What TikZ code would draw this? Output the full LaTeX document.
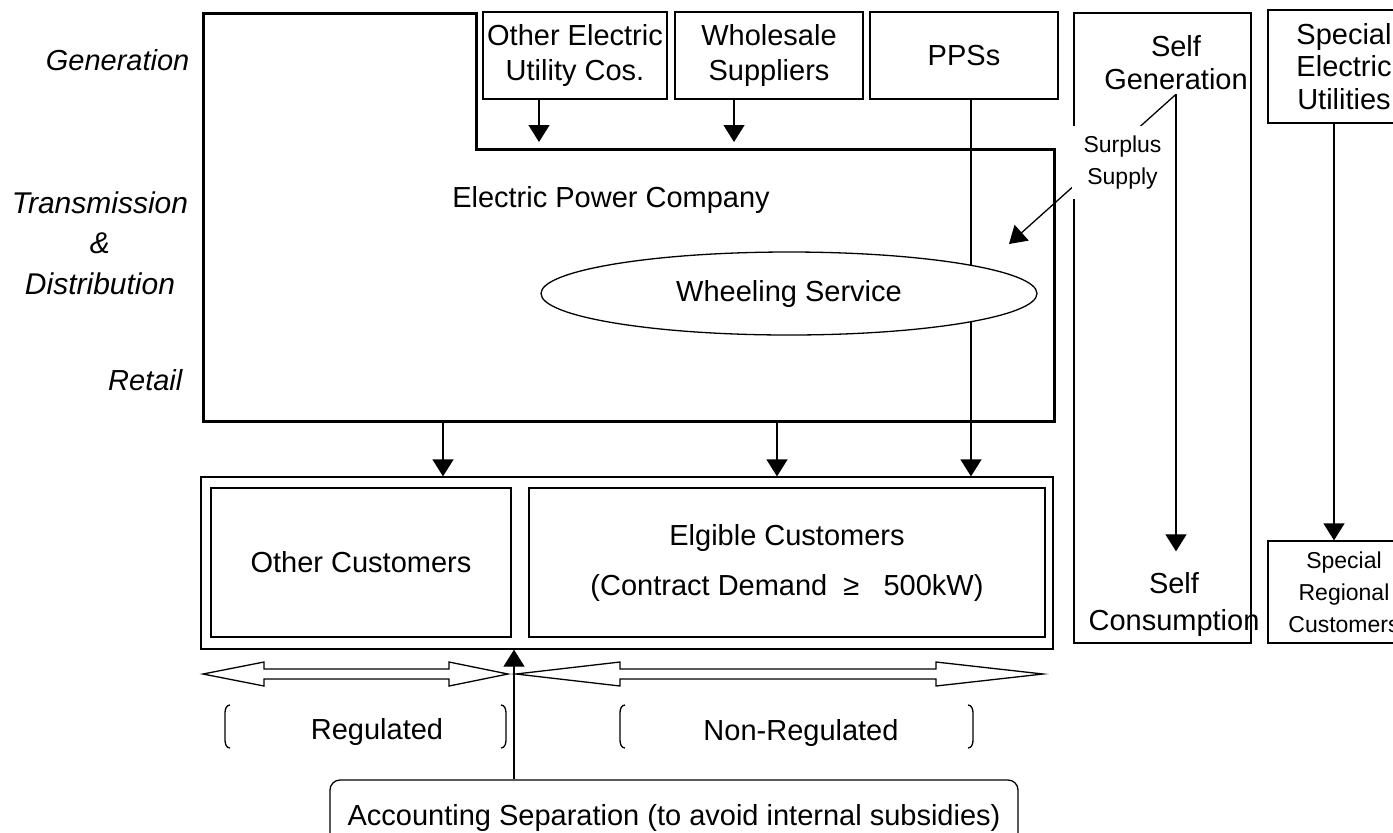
\documentclass[tikz,border=0pt]{standalone}
\usepackage{fontspec}
\setmainfont{Liberation Sans}
\usepackage{tikz}
\usetikzlibrary{arrows.meta,shapes.geometric}
\tikzset{arr/.style={-{Triangle[length=8.5pt,width=10.5pt]}}}
\tikzset{box/.style={draw,inner sep=0pt,align=center}}
\tikzset{small/.style={font=\fontsize{11.5pt}{16pt}\selectfont}}
\tikzset{side/.style={font=\itshape}}

\begin{document}
\fontsize{14.5pt}{17.5pt}\selectfont
\begin{tikzpicture}[x=0.5pt,y=-0.5pt,line width=0.65pt]
\clip (0,0) rectangle (1393,832);

\node[side,anchor=east,inner sep=0pt] (gen) at (190,60) {Generation};
\node[side,align=center,font=\itshape\fontsize{15pt}{20.25pt}\selectfont] (tnd) at (100,243) {Transmission\\\&\\Distribution};
\node[side,anchor=east,inner sep=0pt] (ret) at (183,380) {Retail};

\draw[line width=1.5pt] (203,13) -- (476,13) -- (476,149) -- (1054,149) -- (1054,421) -- (203,421) -- cycle;
\node (epc) at (611,200) {Electric Power Company};

\node[box,minimum width=92pt,minimum height=43.5pt] (oeu) at (575,55.5) {Other Electric\\Utility Cos.};
\node[box,minimum width=94pt,minimum height=43.5pt] (whs) at (769,55.5) {Wholesale\\Suppliers};
\node[box,minimum width=94pt,minimum height=43.5pt] (pps) at (964,55.5) {PPSs};

\node[box,minimum width=426pt,minimum height=86pt] (cust) at (627,563) {};
\node[box,minimum width=150pt,minimum height=74.5pt] (othcust) at (361,562.5) {Other Customers};
\node[box,minimum width=258pt,minimum height=74.5pt,font=\fontsize{14.5pt}{25pt}\selectfont] (elig) at (787,562.5) {Elgible Customers\\(Contract Demand~~≥~~~500kW)};

\draw[arr] ([xshift=3.5pt]pps.south) -- ([xshift=3.5pt]pps.south |- cust.north);
\node[ellipse,draw,fill=white,inner sep=0pt,minimum width=248pt,minimum height=41.5pt] (wheel) at (789,293.5) {Wheeling Service};

\coordinate (gentop) at (0,142);
\draw[arr] ([xshift=-18pt]oeu.south) -- ([xshift=-18pt]oeu.south |- gentop);
\draw[arr] ([xshift=-17.5pt]whs.south) -- ([xshift=-17.5pt]whs.south |- gentop);

\coordinate (ret1) at (443,421);
\coordinate (ret2) at (777,421);
\draw[arr] (ret1) -- (ret1 |- cust.north);
\draw[arr] (ret2) -- (ret2 |- cust.north);

\node[box,minimum width=88.5pt,minimum height=315pt] (selfbox) at (1162.5,328) {};
\node[inner sep=1.75pt,align=center,font=\fontsize{14.5pt}{16.5pt}\selectfont] (selfgen) at (1176,63) {Self\\Generation};
\node[inner xsep=0pt,inner ysep=10pt,align=center,font=\fontsize{14.5pt}{18.5pt}\selectfont] (selfcons) at (1174,604) {Self\\Consumption};
\draw[arr] (selfgen.south) -- (selfgen.south |- selfcons.north);
\coordinate (surtip) at (1009,244);
\draw[arr] (selfgen.south) -- (surtip);
\node[small,fill=white,align=center,inner sep=0pt,minimum width=50.5pt,minimum height=36.5pt] (surplus) at (1122.5,162.5) {Surplus\\Supply};

\node[box,minimum width=76pt,minimum height=56.5pt,font=\fontsize{14.5pt}{16.25pt}\selectfont] (speu) at (1344,66.5) {Special\\Electric\\Utilities};
\node[box,small,minimum width=76pt,minimum height=51pt] (spreg) at (1344,592) {Special\\Regional\\Customers};
\draw[arr] ([xshift=-5pt]speu.south) -- ([xshift=-5pt]speu.south |- spreg.north);

\draw (203,674) -- (264,662) -- (264,669) -- (449,669) -- (449,662) -- (508,674) -- (449,686) -- (449,679) -- (264,679) -- (264,686) -- cycle;
\draw (516,674) -- (620,662) -- (620,669) -- (936,669) -- (936,662) -- (1043,674) -- (936,686) -- (936,679) -- (620,679) -- (620,686) -- cycle;

\node (reg) at (377,732) {Regulated};
\node (nonreg) at (801,733) {Non-Regulated};
\draw (230,705) to[out=180,in=90] (225,713) -- (225,740) to[out=-90,in=180] (230,748);
\draw (501,705) to[out=0,in=90] (506,713) -- (506,740) to[out=-90,in=0] (501,748);
\draw (625,705) to[out=180,in=90] (620,713) -- (620,740) to[out=-90,in=180] (625,748);
\draw (968,705) to[out=0,in=90] (973,713) -- (973,740) to[out=-90,in=0] (968,748);

\node[draw,rounded corners=5pt,minimum width=344pt,minimum height=38pt] (acct) at (674,818) {Accounting Separation (to avoid internal subsidies)};
\draw[arr] ([xshift=-80pt]acct.north) -- ([xshift=-80pt]acct.north |- cust.south);
\end{tikzpicture}
\end{document}
